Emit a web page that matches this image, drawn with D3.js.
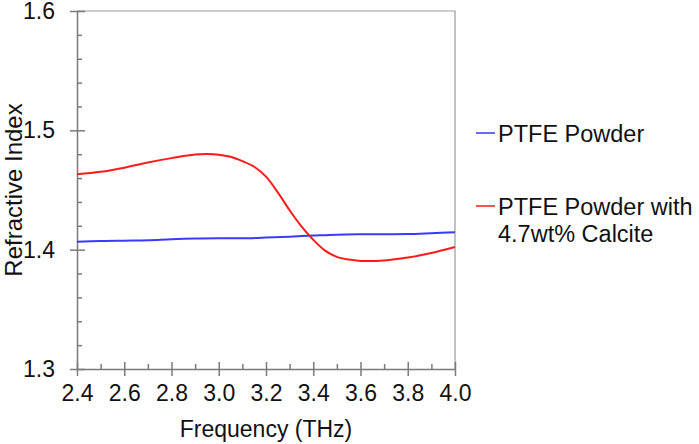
<!DOCTYPE html>
<html>
<head>
<meta charset="utf-8">
<script src="https://cdn.jsdelivr.net/npm/d3@7"></script>
<style>
  body { margin: 0; background: #fff; }
  svg text { font-family: "Liberation Sans", Arial, sans-serif; fill: #111; }
</style>
</head>
<body>
<svg id="chart" width="699" height="444"></svg>
<script>
// frequency samples (THz)
var freqPTFE = [2.4, 2.5, 2.6, 2.7, 2.8, 2.9, 3.0, 3.1, 3.2, 3.3, 3.4, 3.5, 3.6, 3.7, 3.8, 3.9, 4.0];
var nPTFE = [1.4066, 1.4072, 1.4075, 1.4078, 1.4087, 1.4093, 1.4095, 1.4095, 1.4101, 1.4109,
             1.4118, 1.4126, 1.4129, 1.4130, 1.4131, 1.4138, 1.4146];

var freqCalcite = [2.4, 2.5, 2.6, 2.7, 2.8, 2.9, 2.95, 3.0, 3.05, 3.1, 3.15, 3.2, 3.25, 3.3, 3.35,
                   3.4, 3.45, 3.5, 3.55, 3.6, 3.7, 3.8, 3.9, 4.0];
var nCalcite = [1.4631, 1.4652, 1.4687, 1.4731, 1.4767, 1.4797, 1.4801, 1.4796, 1.4778, 1.4742,
                1.4695, 1.4612, 1.4480, 1.4330, 1.4195, 1.4083, 1.3992, 1.3940, 1.3917, 1.3906,
                1.3910, 1.3934, 1.3972, 1.4022];

var xMajor = [2.4, 2.6, 2.8, 3.0, 3.2, 3.4, 3.6, 3.8, 4.0];
var xMinor = [2.5, 2.7, 2.9, 3.1, 3.3, 3.5, 3.7, 3.9];
var yMajor = [1.3, 1.4, 1.5, 1.6];
var yMinor = [1.32, 1.34, 1.36, 1.38, 1.42, 1.44, 1.46, 1.48, 1.52, 1.54, 1.56, 1.58];

var seriesNames = ["PTFE Powder", "PTFE Powder with|4.7wt% Calcite"];
var seriesColors = ["#3a3aff", "#ff1a1a"];

// plot box (window.top is reserved, so no bare "top")
var plotL = 77, plotR = 455, plotT = 11, plotB = 369;
var axisColor = "#7a7a7a";

var svg = d3.select("#chart");
var x = d3.scaleLinear().domain([2.4, 4.0]).range([plotL, plotR]);
var y = d3.scaleLinear().domain([1.3, 1.6]).range([plotB, plotT]);

// frame (top and right)
svg.append("path")
    .attr("d", "M" + plotL + "," + plotT + "H" + plotR + "V" + plotB)
    .attr("fill", "none").attr("stroke", "#999").attr("stroke-width", 1.2);

function styleAxis(g) {
  g.selectAll("path, line").attr("stroke", axisColor).attr("stroke-width", 1.5);
  g.selectAll("text").attr("font-size", 23).attr("fill", "#111")
    .style("font-family", '"Liberation Sans", Arial, sans-serif');
}

// y axis
svg.append("g").attr("transform", "translate(" + plotL + ",0)")
    .call(d3.axisLeft(y).tickValues(yMajor).tickSize(7).tickSizeOuter(0).tickPadding(15)
      .tickFormat(d3.format(".1f")))
    .call(styleAxis);
svg.append("g").attr("transform", "translate(" + plotL + ",0)")
    .call(d3.axisRight(y).tickValues(yMajor).tickSize(8).tickFormat(""))
    .call(function(g) { g.select(".domain").remove(); })
    .call(styleAxis);
svg.append("g").attr("transform", "translate(" + plotL + ",0)")
    .call(d3.axisRight(y).tickValues(yMinor).tickSize(5).tickFormat(""))
    .call(function(g) { g.select(".domain").remove(); })
    .call(styleAxis);

// x axis
svg.append("g").attr("transform", "translate(0," + plotB + ")")
    .call(d3.axisBottom(x).tickValues(xMajor).tickSize(7).tickSizeOuter(0).tickPadding(9)
      .tickFormat(d3.format(".1f")))
    .call(styleAxis);
svg.append("g").attr("transform", "translate(0," + plotB + ")")
    .call(d3.axisTop(x).tickValues(xMajor).tickSize(7).tickFormat(""))
    .call(function(g) { g.select(".domain").remove(); })
    .call(styleAxis);
svg.append("g").attr("transform", "translate(0," + plotB + ")")
    .call(d3.axisTop(x).tickValues(xMinor).tickSize(5).tickFormat(""))
    .call(function(g) { g.select(".domain").remove(); })
    .call(styleAxis);

// axis titles
svg.append("text").attr("x", (plotL + plotR) / 2).attr("y", 437)
    .attr("text-anchor", "middle").attr("font-size", 23).text("Frequency (THz)");
svg.append("text").attr("transform", "translate(22,190) rotate(-90)")
    .attr("text-anchor", "middle").attr("font-size", 24).text("Refractive Index");

// curves
var line = d3.line().x(function(d) { return x(d[0]); }).y(function(d) { return y(d[1]); })
    .curve(d3.curveCatmullRom.alpha(0.5));
var series = [d3.zip(freqPTFE, nPTFE), d3.zip(freqCalcite, nCalcite)];
series.forEach(function(s, i) {
  svg.append("path").datum(s).attr("d", line)
      .attr("fill", "none").attr("stroke", seriesColors[i]).attr("stroke-width", 2);
});

// legend
var legendY = [133, 206];
seriesNames.forEach(function(name, i) {
  svg.append("line").attr("x1", 476).attr("x2", 495)
      .attr("y1", legendY[i]).attr("y2", legendY[i])
      .attr("stroke", seriesColors[i]).attr("stroke-width", 1.5);
  var t = svg.append("text").attr("x", 498).attr("y", legendY[i] + 9).attr("font-size", 23.5);
  name.split("|").forEach(function(part, j) {
    t.append("tspan").attr("x", 498).attr("dy", j === 0 ? 0 : 27).text(part);
  });
});
</script>
</body>
</html>
